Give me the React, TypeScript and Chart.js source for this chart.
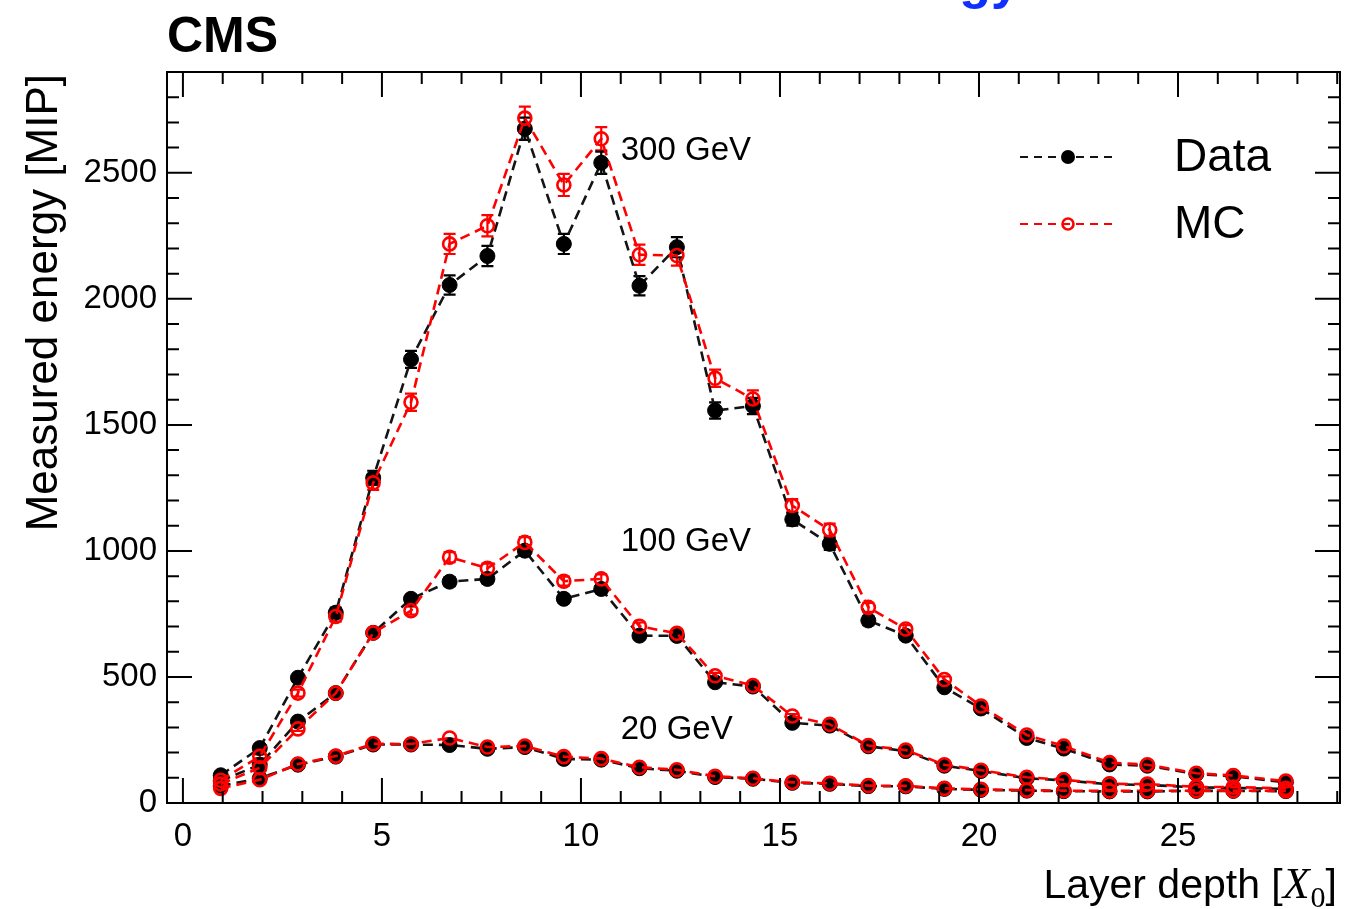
import React, { useEffect, useRef } from "react";
import { Chart, registerables } from "chart.js";

Chart.register(...registerables);

// ---------- data ----------
const layerDepth = [
  0.95, 1.93, 2.89, 3.84, 4.78, 5.73, 6.7, 7.65, 8.59, 9.57, 10.51, 11.47, 12.41, 13.37,
  14.32, 15.31, 16.25, 17.22, 18.16, 19.13, 20.05, 21.2, 22.13, 23.28, 24.23, 25.46, 26.39, 27.71,
];

const data300 = [
  110, 218, 497, 755, 1290, 1760, 2055, 2170, 2675, 2218, 2540, 2052, 2205, 1557,
  1575, 1125, 1028, 724, 664, 459, 375, 258, 216, 153, 148, 115, 106, 82,
];
const mc300 = [
  90, 185, 436, 740, 1270, 1590, 2218, 2290, 2717, 2452, 2635, 2175, 2172, 1685,
  1603, 1180, 1083, 776, 690, 490, 385, 270, 226, 160, 152, 118, 109, 87,
];
const errData300 = [
  5, 8, 14, 20, 28, 34, 38, 40, 44, 40, 44, 38, 40, 32,
  32, 25, 24, 18, 16, 12, 10, 8, 7, 5, 5, 4, 4, 3,
];
const errMc300 = [
  5, 8, 14, 20, 28, 34, 40, 42, 46, 44, 46, 40, 40, 34,
  34, 26, 25, 18, 16, 12, 10, 8, 7, 5, 5, 4, 4, 3,
];

const data100 = [
  88, 152, 323, 436, 675, 810, 878, 889, 1001, 810, 849, 664, 663, 479,
  462, 318, 307, 225, 206, 148, 127, 98, 90, 74, 72, 62, 60, 56,
];
const mc100 = [
  75, 140, 294, 436, 675, 763, 975, 931, 1034, 880, 889, 701, 673, 505,
  466, 345, 312, 228, 210, 152, 130, 102, 92, 76, 75, 64, 63, 58,
];
const errData100 = [
  3, 5, 8, 10, 14, 16, 18, 18, 20, 16, 17, 14, 14, 10,
  10, 7, 7, 5, 5, 4, 3, 3, 2, 2, 2, 2, 2, 2,
];
const errMc100 = [
  3, 5, 8, 10, 14, 16, 20, 19, 21, 18, 18, 15, 14, 11,
  10, 8, 7, 5, 5, 4, 3, 3, 2, 2, 2, 2, 2, 2,
];

const data20 = [
  68, 98, 152, 184, 232, 232, 230, 215, 222, 175, 172, 138, 128, 103,
  96, 80, 76, 67, 66, 56, 52, 49, 47, 46, 46, 48, 48, 47,
];
const mc20 = [
  58, 92, 155, 186, 235, 234, 258, 222, 226, 184, 176, 142, 132, 106,
  98, 82, 78, 69, 68, 58, 54, 51, 49, 48, 48, 49, 49, 48,
];

const xTickValues = [0, 5, 10, 15, 20, 25];
const yTickValues = [0, 500, 1000, 1500, 2000, 2500];
const energyLabels = ["300 GeV", "100 GeV", "20 GeV"];
const energyLabelPos = [
  [11.0, 2588],
  [11.0, 1036],
  [11.0, 288],
];
const legendLabels = ["Data", "MC"];
const xTitle = ["Layer depth [", "X", "0", "]"];
const yTitle = "Measured energy [MIP]";
const expTitle = "CMS";
const topTitle = "Energy";

// ---------- styles ----------
const SANS = "'Liberation Sans', Arial, Helvetica, sans-serif";
const SERIF = "'Liberation Serif', 'Times New Roman', serif";
const BLACK = "#000000";
const RED = "#ff0000";
const DASH = [10, 6];

const X_MIN = -0.4;
const X_MAX = 29.07;
const Y_MIN = 0;
const Y_MAX = 2900;

function makePoints(ys: number[]) {
  return layerDepth.map((x, i) => ({ x, y: ys[i] }));
}

function mcDataset(label: string, ys: number[], errs: number[] | null) {
  return {
    label,
    data: makePoints(ys),
    errors: errs,
    borderColor: RED,
    borderWidth: 2.6,
    borderDash: DASH,
    pointStyle: "circle",
    pointRadius: 6.5,
    pointBorderWidth: 2.6,
    pointBorderColor: RED,
    pointBackgroundColor: "rgba(255,255,255,0)",
    showLine: true,
    fill: false,
    tension: 0,
  };
}

function dataDataset(label: string, ys: number[], errs: number[] | null) {
  return {
    label,
    data: makePoints(ys),
    errors: errs,
    borderColor: "#141414",
    borderWidth: 2.6,
    borderDash: DASH,
    pointStyle: "circle",
    pointRadius: 7.5,
    pointBorderWidth: 1,
    pointBorderColor: BLACK,
    pointBackgroundColor: BLACK,
    showLine: true,
    fill: false,
    tension: 0,
  };
}

const errorBarPlugin = {
  id: "errorBars",
  beforeDatasetsDraw(chart: any) {
    const { ctx } = chart;
    const yScale = chart.scales.y;
    chart.data.datasets.forEach((ds: any, i: number) => {
      if (!ds.errors) return;
      const meta = chart.getDatasetMeta(i);
      ctx.save();
      ctx.strokeStyle = ds.pointBorderColor;
      ctx.lineWidth = 2.2;
      meta.data.forEach((pt: any, j: number) => {
        const v = ds.data[j].y;
        const e = ds.errors[j];
        const yTop = yScale.getPixelForValue(v + e);
        const yBot = yScale.getPixelForValue(v - e);
        const x = pt.x;
        ctx.beginPath();
        ctx.moveTo(x, yTop);
        ctx.lineTo(x, yBot);
        ctx.moveTo(x - 6, yTop);
        ctx.lineTo(x + 6, yTop);
        ctx.moveTo(x - 6, yBot);
        ctx.lineTo(x + 6, yBot);
        ctx.stroke();
      });
      ctx.restore();
    });
  },
};

const decorPlugin = {
  id: "decor",
  afterDraw(chart: any) {
    const { ctx, chartArea } = chart;
    const { left, right, top, bottom } = chartArea;
    const xs = chart.scales.x;
    const ys = chart.scales.y;

    ctx.save();
    // frame
    ctx.strokeStyle = BLACK;
    ctx.lineWidth = 2;
    ctx.setLineDash([]);
    ctx.strokeRect(left, top, right - left, bottom - top);

    // x ticks (inside, bottom and top)
    for (let v = 0; v <= Math.floor(X_MAX); v++) {
      const px = xs.getPixelForValue(v);
      const len = v % 5 === 0 ? 25 : 12;
      ctx.beginPath();
      ctx.moveTo(px, bottom);
      ctx.lineTo(px, bottom - len);
      ctx.moveTo(px, top);
      ctx.lineTo(px, top + len);
      ctx.stroke();
    }
    // y ticks (inside, left and right)
    for (let v = 0; v <= Y_MAX; v += 100) {
      const py = ys.getPixelForValue(v);
      const len = v % 500 === 0 ? 25 : 12;
      ctx.beginPath();
      ctx.moveTo(left, py);
      ctx.lineTo(left + len, py);
      ctx.moveTo(right, py);
      ctx.lineTo(right - len, py);
      ctx.stroke();
    }

    // energy labels
    ctx.fillStyle = BLACK;
    ctx.font = `33px ${SANS}`;
    ctx.textAlign = "left";
    ctx.textBaseline = "middle";
    energyLabels.forEach((t, i) => {
      ctx.fillText(t, xs.getPixelForValue(energyLabelPos[i][0]), ys.getPixelForValue(energyLabelPos[i][1]));
    });

    // legend
    const legY = [157, 224];
    const legColors = ["#141414", RED];
    legendLabels.forEach((t, i) => {
      const y = legY[i];
      ctx.strokeStyle = legColors[i];
      ctx.lineWidth = 2.2;
      ctx.setLineDash([8, 6]);
      ctx.beginPath();
      ctx.moveTo(1020, y);
      ctx.lineTo(1116, y);
      ctx.stroke();
      ctx.setLineDash([]);
      ctx.beginPath();
      ctx.arc(1068, y, i === 0 ? 7 : 5.5, 0, Math.PI * 2);
      if (i === 0) {
        ctx.fillStyle = BLACK;
        ctx.fill();
      } else {
        ctx.lineWidth = 2.6;
        ctx.strokeStyle = RED;
        ctx.stroke();
      }
      ctx.fillStyle = BLACK;
      ctx.font = `46px ${SANS}`;
      ctx.textAlign = "left";
      ctx.textBaseline = "middle";
      ctx.fillText(t, 1174, y + 1);
    });

    // CMS
    ctx.fillStyle = BLACK;
    ctx.font = `bold 50px ${SANS}`;
    ctx.textAlign = "left";
    ctx.textBaseline = "alphabetic";
    ctx.fillText(expTitle, 167, 52);

    // clipped blue title at top
    ctx.fillStyle = "#1030ff";
    ctx.font = `bold 52px ${SANS}`;
    ctx.textAlign = "right";
    ctx.fillText(topTitle, 1020, -2);

    // y title
    ctx.save();
    ctx.translate(57, 74);
    ctx.rotate(-Math.PI / 2);
    ctx.fillStyle = BLACK;
    ctx.font = `44px ${SANS}`;
    ctx.textAlign = "right";
    ctx.textBaseline = "alphabetic";
    ctx.fillText(yTitle, 0, 0);
    ctx.restore();

    // x title, right aligned
    ctx.fillStyle = BLACK;
    const fonts = [`41px ${SANS}`, `italic 44px ${SERIF}`, `30px ${SERIF}`, `41px ${SANS}`];
    const dy = [0, 0, 9, 0];
    const widths = xTitle.map((t, i) => {
      ctx.font = fonts[i];
      return ctx.measureText(t).width;
    });
    const total = widths.reduce((a, b) => a + b, 0);
    let cx = 1336 - total;
    ctx.textAlign = "left";
    ctx.textBaseline = "alphabetic";
    xTitle.forEach((t, i) => {
      ctx.font = fonts[i];
      ctx.fillText(t, cx, 898 + dy[i]);
      cx += widths[i] + (i === 1 ? 1 : 0);
    });
    ctx.restore();
  },
};

export default function App() {
  const ref = useRef<HTMLCanvasElement | null>(null);

  useEffect(() => {
    if (!ref.current) return;
    const chart = new Chart(ref.current, {
      type: "line",
      data: {
        datasets: [
          mcDataset("MC 300 GeV", mc300, errMc300),
          mcDataset("MC 100 GeV", mc100, errMc100),
          mcDataset("MC 20 GeV", mc20, null),
          dataDataset("Data 300 GeV", data300, errData300),
          dataDataset("Data 100 GeV", data100, errData100),
          dataDataset("Data 20 GeV", data20, null),
        ] as any,
      },
      options: {
        responsive: false,
        animation: false,
        parsing: false as any,
        layout: { padding: { top: 72, right: 13, left: 0, bottom: 0 } },
        plugins: {
          legend: { display: false },
          tooltip: { enabled: false },
        },
        scales: {
          x: {
            type: "linear",
            min: X_MIN,
            max: X_MAX,
            afterFit(s: any) {
              s.height = 106;
            },
            afterBuildTicks(s: any) {
              s.ticks = xTickValues.map((v) => ({ value: v }));
            },
            grid: { display: false, drawTicks: false },
            border: { display: false },
            ticks: {
              color: BLACK,
              font: { family: SANS, size: 33 },
              padding: 14,
              maxRotation: 0,
              autoSkip: false,
              callback: (v: any) => String(v),
            },
          },
          y: {
            type: "linear",
            min: Y_MIN,
            max: Y_MAX,
            afterFit(s: any) {
              s.width = 167;
            },
            afterBuildTicks(s: any) {
              s.ticks = yTickValues.map((v) => ({ value: v }));
            },
            grid: { display: false, drawTicks: false },
            border: { display: false },
            ticks: {
              color: BLACK,
              font: { family: SANS, size: 33 },
              padding: 10,
              autoSkip: false,
              callback: (v: any) => String(v),
            },
          },
        },
      },
      plugins: [errorBarPlugin, decorPlugin],
    });
    return () => chart.destroy();
  }, []);

  return (
    <div style={{ position: "absolute", left: 0, top: 0, width: 1353, height: 909, background: "#fff" }}>
      <canvas ref={ref} width={1353} height={909} style={{ display: "block" }} />
    </div>
  );
}
